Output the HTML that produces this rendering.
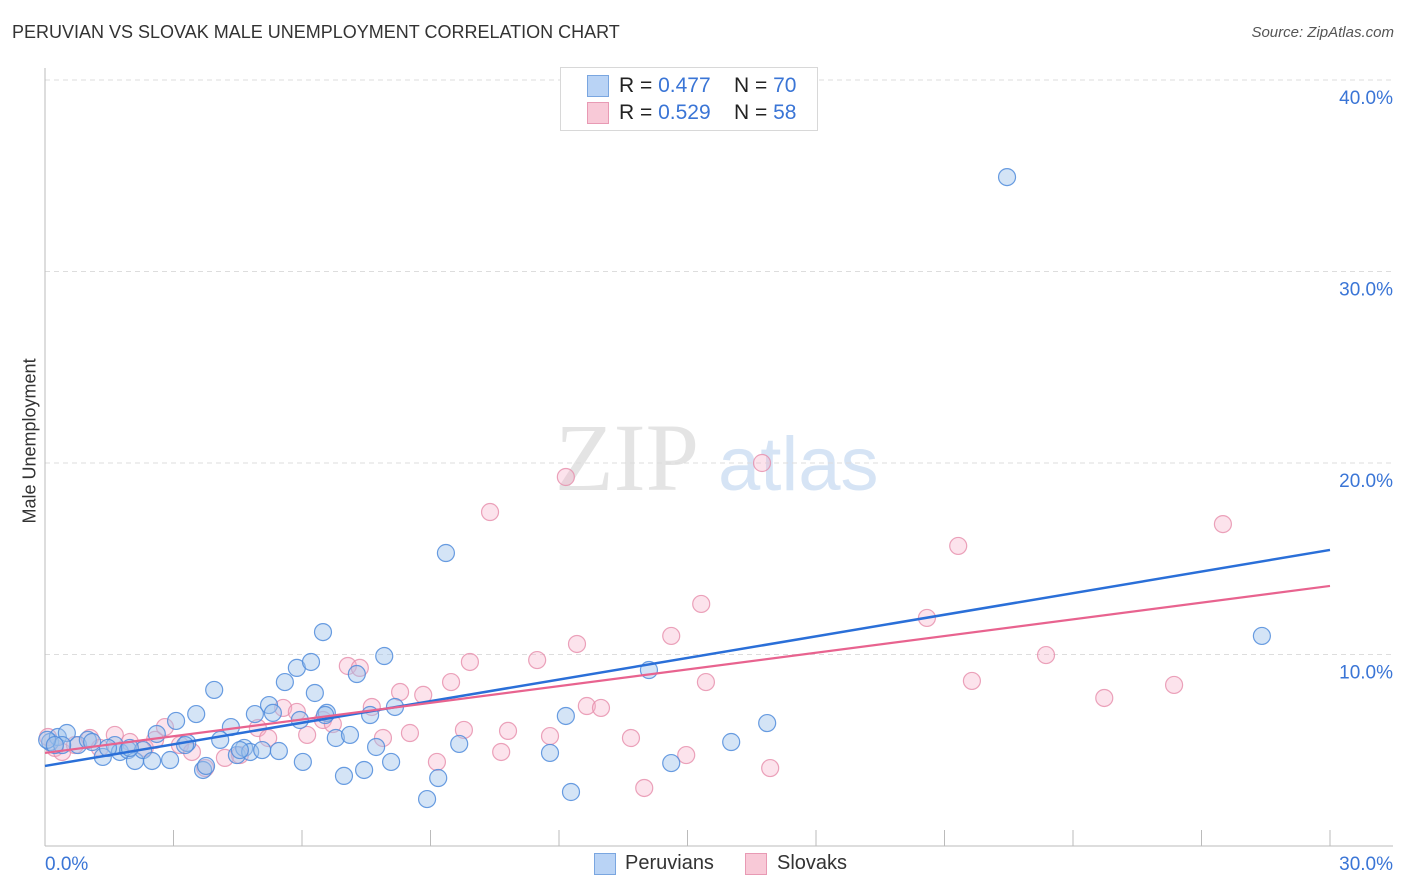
<!DOCTYPE html>
<html><head><meta charset="utf-8">
<style>
body{margin:0;background:#fff;font-family:"Liberation Sans",sans-serif;}
#wrap{position:relative;width:1406px;height:892px;overflow:hidden;}
.t{position:absolute;white-space:nowrap;}
</style></head><body>
<div id="wrap">
<div class="t" style="left:12px;top:22px;font-size:18px;color:#333;">PERUVIAN VS SLOVAK MALE UNEMPLOYMENT CORRELATION CHART</div>
<div class="t" style="right:12px;top:24px;font-size:15px;color:#555;font-style:italic;">Source: ZipAtlas.com</div>
<div class="t" style="left:-40px;top:443px;transform:rotate(-90deg);font-size:18px;color:#333;width:140px;text-align:center;">Male Unemployment</div>
<svg id="svg" width="1406" height="892" style="position:absolute;left:0;top:0">
<text x="555" y="490" font-family="Liberation Serif,serif" font-size="96" fill="#e4e4e4">ZIP</text>
<text x="718" y="490" font-family="Liberation Sans,sans-serif" font-size="76" fill="#d6e4f5">atlas</text>
</svg>
<div style="position:absolute;left:560px;top:67px;width:256px;height:62px;border:1px solid #d8d8d8;background:#fff;">
<div style="position:absolute;left:26px;top:7px;width:20px;height:20px;background:#b9d3f5;border:1px solid #7aa6e0;"></div>
<div class="t" style="left:58px;top:6px;font-size:21px;color:#222;">R = <span style="color:#3a75d6">0.477</span>&nbsp;&nbsp;&nbsp; N = <span style="color:#3a75d6">70</span></div>
<div style="position:absolute;left:26px;top:34px;width:20px;height:20px;background:#f8c9d7;border:1px solid #e89ab4;"></div>
<div class="t" style="left:58px;top:33px;font-size:21px;color:#222;">R = <span style="color:#3a75d6">0.529</span>&nbsp;&nbsp;&nbsp; N = <span style="color:#3a75d6">58</span></div>
</div>
<div style="position:absolute;left:594px;top:853px;width:20px;height:20px;background:#b9d3f5;border:1px solid #7aa6e0;"></div>
<div class="t" style="left:625px;top:852px;font-size:20px;color:#333;">Peruvians</div>
<div style="position:absolute;left:745px;top:853px;width:20px;height:20px;background:#f8c9d7;border:1px solid #e89ab4;"></div>
<div class="t" style="left:777px;top:852px;font-size:20px;color:#333;">Slovaks</div>
</div>
<script>
const yTicks=[10,20,30,40];
const yTickLabels=["10.0%","20.0%","30.0%","40.0%"];
const xTickLabels=["0.0%","30.0%"];
const peruX=[0.12,0.30,0.51,0.77,1.00,1.35,1.63,1.75,1.94,2.10,2.29,2.50,2.61,2.92,3.06,3.32,3.53,3.69,3.76,3.95,4.09,4.34,4.48,4.65,4.79,4.90,5.07,5.23,5.32,5.46,5.60,5.88,6.02,6.21,6.30,6.49,6.58,6.79,6.98,7.12,7.28,7.45,7.59,7.73,7.92,8.08,8.17,8.92,9.18,9.36,9.67,11.79,12.16,12.28,14.10,14.62,16.02,16.86,22.46,28.41,0.40,0.05,1.98,3.27,4.55,5.95,6.54,0.23,1.47,1.10];
const peruY=[5.43,5.69,5.90,5.27,5.54,4.65,5.27,4.91,5.01,4.44,5.01,4.44,5.85,4.49,6.53,5.38,6.89,3.97,4.18,8.15,5.54,6.21,4.75,5.12,4.91,6.89,5.01,7.36,6.95,4.96,8.56,9.30,4.39,9.61,7.99,11.17,6.95,5.64,3.66,5.80,8.98,3.97,6.84,5.17,9.92,4.39,7.26,2.45,3.55,15.30,5.33,4.86,6.79,2.82,9.19,4.33,5.43,6.42,34.93,10.97,5.27,5.54,5.12,5.27,5.01,6.58,6.84,5.27,5.12,5.43];
const slovX=[0.07,0.23,0.40,0.70,1.05,1.28,1.63,1.98,2.33,2.57,2.80,3.15,3.43,3.74,4.20,4.55,4.97,5.21,5.56,5.88,6.12,6.49,6.72,7.07,7.35,7.63,7.89,8.29,8.52,8.83,9.15,9.48,9.78,9.92,10.39,10.65,10.81,11.49,11.79,12.16,12.42,12.65,12.98,13.68,13.99,14.62,14.97,15.32,15.43,16.93,16.74,20.59,21.32,21.64,23.37,24.73,26.36,27.50];
const slovY=[5.69,5.12,4.91,5.27,5.64,5.12,5.80,5.43,5.12,5.54,6.21,5.27,4.91,4.07,4.60,4.75,6.16,5.64,7.21,7.00,5.80,6.58,6.37,9.40,9.30,7.26,5.64,8.04,5.90,7.89,4.39,8.56,6.06,9.61,17.44,4.91,6.01,9.71,5.74,19.27,10.55,7.31,7.21,5.64,3.03,10.97,4.75,12.64,8.56,4.07,20.00,11.91,15.67,8.62,9.97,7.73,8.41,16.81];
const peruTrend=[4.18,15.46];
const slovTrend=[4.86,13.58];
const trendX=[0,30];

const X0=45,X1=1330,Y0=846,PY=19.15;
const sx=v=>X0+(X1-X0)*v/30;
const sy=v=>Y0-v*PY;
const svg=document.getElementById('svg');
const NS='http://www.w3.org/2000/svg';
function mk(tag,attrs){const e=document.createElementNS(NS,tag);for(const k in attrs)e.setAttribute(k,attrs[k]);svg.appendChild(e);return e;}
yTicks.forEach((t,i)=>{
  const g=mk('line',{x1:X0,x2:1393,y1:sy(t),y2:sy(t),stroke:'#ddd','stroke-dasharray':'5,4'});
  
  
  const l=mk('text',{x:1393,y:sy(t)+24,'text-anchor':'end','font-size':19,fill:'#3a75d6','font-family':'Liberation Sans,sans-serif'});
  l.textContent=yTickLabels[i];
  
  
});
const ya=mk('line',{x1:X0,x2:X0,y1:68,y2:Y0,stroke:'#bbb'});


const xa=mk('line',{x1:X0,x2:1393,y1:Y0,y2:Y0,stroke:'#bbb'});


for(let i=0;i<=10;i++){
  const tk=mk('line',{x1:sx(i*3),x2:sx(i*3),y1:Y0-16,y2:Y0,stroke:'#bbb'});
  
  
}
const xl0=mk('text',{x:45,y:870,'font-size':19,fill:'#3a75d6','font-family':'Liberation Sans,sans-serif'});
xl0.textContent=xTickLabels[0];


const xl1=mk('text',{x:1393,y:870,'text-anchor':'end','font-size':19,fill:'#3a75d6','font-family':'Liberation Sans,sans-serif'});
xl1.textContent=xTickLabels[1];


function pts(xs,ys,fill,stroke,name){
  xs.forEach((x,i)=>{
    const c=mk('circle',{cx:sx(x),cy:sy(ys[i]),r:8.5,fill:fill,stroke:stroke,'stroke-width':1.2});
    
    
  });
}
pts(slovX,slovY,'rgba(245,175,200,0.35)','rgba(230,140,170,0.8)','slovak-point');
pts(peruX,peruY,'rgba(160,195,235,0.45)','rgba(80,140,220,0.85)','peruvian-point');
const tp=mk('line',{x1:sx(trendX[0]),y1:sy(peruTrend[0]),x2:sx(trendX[1]),y2:sy(peruTrend[1]),stroke:'#2a6fd8','stroke-width':2.5});


const ts=mk('line',{x1:sx(trendX[0]),y1:sy(slovTrend[0]),x2:sx(trendX[1]),y2:sy(slovTrend[1]),stroke:'#e8638f','stroke-width':2.2});


</script>
</body></html>
